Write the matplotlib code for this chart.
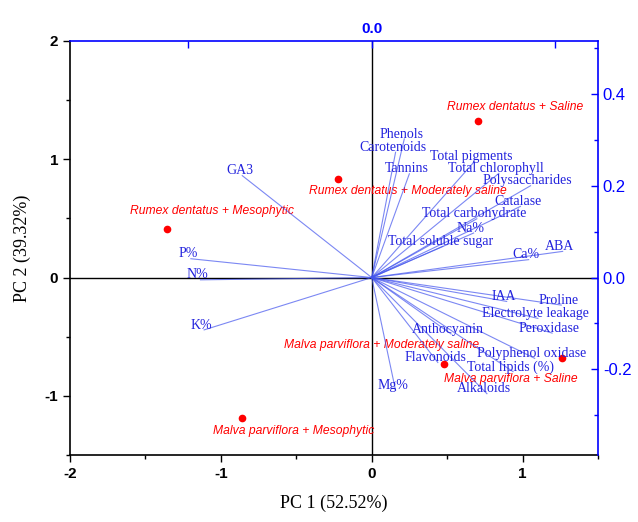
import matplotlib
matplotlib.use("Agg")
import matplotlib.pyplot as plt
from matplotlib.ticker import MultipleLocator, FixedLocator

plt.rcParams["axes.unicode_minus"] = False

# scores (PC1, PC2)
samples = ["Rumex dentatus + Mesophytic", "Rumex dentatus + Moderately saline",
           "Rumex dentatus + Saline", "Malva parviflora + Mesophytic",
           "Malva parviflora + Moderately saline", "Malva parviflora + Saline"]
pc1 = [-1.354, -0.223, 0.705, -0.857, 0.479, 1.264]
pc2 = [0.407, 0.836, 1.322, -1.189, -0.731, -0.684]

# loadings
variables = ["Phenols", "Carotenoids", "Tannins", "Total pigments", "Total chlorophyll",
             "Polysaccharides", "Catalase", "Total carbohydrate", "Na%",
             "Total soluble sugar", "Ca%", "ABA", "IAA", "Proline",
             "Electrolyte leakage", "Peroxidase", "Anthocyanin", "Polyphenol oxidase",
             "Flavonoids", "Total lipids (%)", "Alkaloids", "Mg%", "GA3", "P%", "N%", "K%"]
load1 = [0.071, 0.052, 0.082, 0.224, 0.277, 0.346, 0.324, 0.229, 0.222, 0.155,
         0.342, 0.416, 0.294, 0.413, 0.362, 0.393, 0.173, 0.355, 0.144, 0.308,
         0.251, 0.052, -0.282, -0.394, -0.373, -0.365]
load2 = [0.302, 0.273, 0.226, 0.253, 0.227, 0.200, 0.155, 0.128, 0.097, 0.068,
         0.039, 0.057, -0.052, -0.060, -0.089, -0.121, -0.123, -0.176, -0.185, -0.205,
         -0.253, -0.246, 0.222, 0.041, -0.005, -0.114]

# label offsets for the sample names (points)
sample_offsets = [(32, 13), (50, -9), (27, 10), (37, -9), (-45, 14), (-37, -15)]

serif = "Liberation Serif"
sans = "Liberation Sans"

fig = plt.figure(figsize=(6.38, 5.22), dpi=100)
ax = fig.add_axes([0.1097, 0.1284, 0.8276, 0.7931])
ax.set_xlim(-2, 1.5)
ax.set_ylim(-1.5, 2)

# loading axes (top / right)
kx = (598 - 70) / 3.5 / 459
ky = (455 - 41) / 3.5 / 459
ax2 = fig.add_axes(ax.get_position(), facecolor="none")
ax2.set_xlim(-2 * kx, 1.5 * kx)
ax2.set_ylim(-1.5 * ky, 2 * ky)

ax.axhline(0, color="black", lw=1)
ax.axvline(0, color="black", lw=1)

for name, x, y in zip(variables, load1, load2):
    ax2.plot([0, x], [0, y], color="#4455ee", lw=0.8, alpha=0.7)
    ax2.annotate(name, (x, y), xytext=(-2, 3.5), textcoords="offset points",
                 ha="center", va="center", color="#2222dd", fontsize=10, family=serif)

ax.plot(pc1, pc2, "o", color="red", ms=4.5, zorder=5)
for name, x, y, off in zip(samples, pc1, pc2, sample_offsets):
    ax.annotate(name, (x, y), xytext=off, textcoords="offset points",
                ha="center", va="center", color="red", fontsize=8.7,
                family=sans, style="italic")

# scores axes style
ax.xaxis.set_major_locator(MultipleLocator(1))
ax.xaxis.set_minor_locator(MultipleLocator(0.5))
ax.yaxis.set_major_locator(MultipleLocator(1))
ax.yaxis.set_minor_locator(MultipleLocator(0.5))
ax.tick_params(which="both", direction="out", width=1)
ax.tick_params(which="major", length=5)
ax.tick_params(which="minor", length=3)
for lab in ax.get_xticklabels() + ax.get_yticklabels():
    lab.set_fontfamily(sans)
    lab.set_fontweight("bold")
    lab.set_fontsize(11)
for s in ["top", "right"]:
    ax.spines[s].set_visible(False)
ax.spines["left"].set_linewidth(1.2)
ax.spines["bottom"].set_linewidth(1.2)
ax.set_xlabel("PC 1 (52.52%)", family=serif, fontsize=13, labelpad=10)
ax.set_ylabel("PC 2 (39.32%)", family=serif, fontsize=13, labelpad=10)

# loading axes style
ax2.xaxis.tick_top()
ax2.yaxis.tick_right()
ax2.xaxis.set_major_locator(FixedLocator([-0.4, 0.0, 0.4]))
ax2.set_xticklabels(["", "0.0", ""])
ax2.yaxis.set_major_locator(MultipleLocator(0.2))
ax2.yaxis.set_minor_locator(MultipleLocator(0.1))
ax2.tick_params(which="both", direction="in", color="blue", width=1)
ax2.tick_params(which="major", length=5)
ax2.tick_params(which="minor", length=3)
ax2.tick_params(axis="x", labelcolor="blue", labelsize=11)
ax2.tick_params(axis="y", labelcolor="blue", labelsize=12)
for lab in ax2.get_xticklabels():
    lab.set_fontfamily(sans)
    lab.set_fontweight("bold")
for lab in ax2.get_yticklabels():
    lab.set_fontfamily(sans)
ax2.yaxis.set_major_formatter(plt.FuncFormatter(lambda v, p: f"{v:.1f}"))
for s in ["left", "bottom"]:
    ax2.spines[s].set_visible(False)
for s in ["top", "right"]:
    ax2.spines[s].set_color("blue")
    ax2.spines[s].set_linewidth(1.2)

fig.savefig("out.png", dpi=100)
